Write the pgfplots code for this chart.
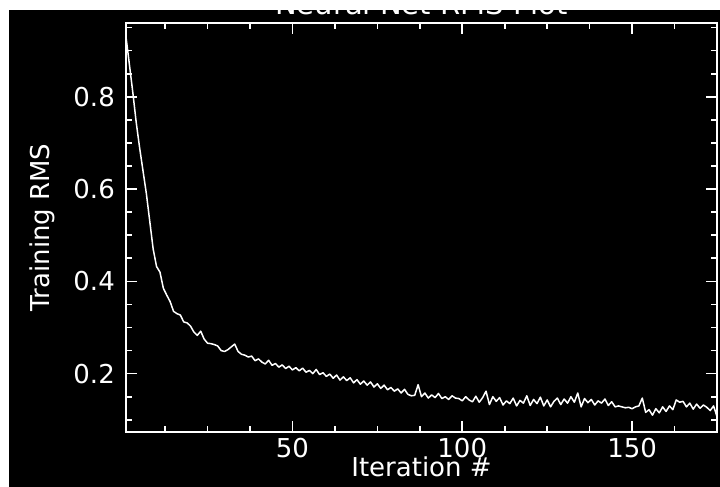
\documentclass[border=0pt]{standalone}
\usepackage{fontspec}
\setmainfont{DejaVu Sans}
\usepackage{pgfplots}
\pgfplotsset{compat=1.18}

% training RMS per iteration
\pgfplotstableread{
it rms
1 0.930
2 0.870
3 0.810
4 0.745
5 0.690
6 0.640
7 0.590
8 0.530
9 0.470
10 0.432
11 0.420
12 0.385
13 0.370
14 0.356
15 0.335
16 0.330
17 0.327
18 0.312
19 0.310
20 0.303
21 0.290
22 0.283
23 0.292
24 0.275
25 0.266
26 0.265
27 0.263
28 0.260
29 0.250
30 0.248
31 0.252
32 0.258
33 0.264
34 0.248
35 0.242
36 0.240
37 0.236
38 0.238
39 0.228
40 0.232
41 0.225
42 0.221
43 0.229
44 0.218
45 0.222
46 0.214
47 0.219
48 0.211
49 0.216
50 0.208
51 0.213
52 0.206
53 0.212
54 0.203
55 0.207
56 0.200
57 0.209
58 0.198
59 0.202
60 0.194
61 0.199
62 0.190
63 0.197
64 0.186
65 0.193
66 0.185
67 0.191
68 0.180
69 0.187
70 0.177
71 0.184
72 0.175
73 0.182
74 0.171
75 0.178
76 0.168
77 0.175
78 0.165
79 0.170
80 0.162
81 0.167
82 0.158
83 0.166
84 0.155
85 0.152
86 0.153
87 0.176
88 0.150
89 0.158
90 0.147
91 0.154
92 0.148
93 0.157
94 0.146
95 0.150
96 0.144
97 0.152
98 0.147
99 0.146
100 0.141
101 0.150
102 0.143
103 0.139
104 0.151
105 0.138
106 0.148
107 0.162
108 0.133
109 0.150
110 0.140
111 0.148
112 0.132
113 0.141
114 0.135
115 0.147
116 0.130
117 0.142
118 0.136
119 0.152
120 0.131
121 0.144
122 0.135
123 0.149
124 0.130
125 0.143
126 0.128
127 0.140
128 0.147
129 0.133
130 0.145
131 0.136
132 0.150
133 0.138
134 0.158
135 0.128
136 0.146
137 0.137
138 0.144
139 0.132
140 0.141
141 0.136
142 0.145
143 0.131
144 0.139
145 0.128
146 0.130
147 0.128
148 0.126
149 0.127
150 0.124
151 0.128
152 0.130
153 0.147
154 0.116
155 0.122
156 0.110
157 0.124
158 0.115
159 0.128
160 0.118
161 0.130
162 0.122
163 0.143
164 0.138
165 0.140
166 0.128
167 0.136
168 0.123
169 0.134
170 0.125
171 0.132
172 0.127
173 0.120
174 0.130
175 0.107
}\rmsdata

\begin{document}
\begin{tikzpicture}
% whole screenshot area, 1pt = 1px
\useasboundingbox (-126pt,-55pt) rectangle (594pt,432pt);
\clip (-126pt,-55pt) rectangle (594pt,432pt);
\fill[black] (-126pt,-55pt) rectangle (594pt,432pt);

\begin{axis}[
    scale only axis,
    width=591pt,
    height=409pt,
    xmin=1, xmax=175,
    ymin=0.0735, ymax=0.96,
    xtick={50,100,150},
    minor xtick={12.5,25,37.5,62.5,75,87.5,112.5,125,137.5,162.5},
    ytick={0.2,0.4,0.6,0.8},
    minor ytick={0.1,0.15,0.25,0.3,0.35,0.45,0.5,0.55,0.65,0.7,0.75,0.85,0.9,0.95},
    tick pos=both,
    tick align=inside,
    major tick length=11pt,
    minor tick length=6pt,
    every tick/.style={white, line width=1.6pt},
    axis line style={white, line width=2pt},
    /pgf/number format/assume math mode=true,
    xticklabel style={white, font=\fontsize{26}{30}\selectfont, inner sep=0pt, anchor=north, yshift=-6pt},
    yticklabel style={white, font=\fontsize{26}{30}\selectfont, inner sep=0pt, anchor=east, xshift=-11pt,
        /pgf/number format/fixed, /pgf/number format/fixed zerofill, /pgf/number format/precision=1},
    xlabel={Iteration \#},
    ylabel={Training RMS},
    xlabel style={white, font=\fontsize{26}{30}\selectfont, inner sep=0pt,
        at={(axis description cs:0.5,-0.110)}, anchor=base},
    ylabel style={white, font=\fontsize{26}{30}\selectfont, inner sep=0pt,
        at={(axis description cs:-0.1286,0.5)}, anchor=base},
    title={Neural Net RMS Plot},
    title style={white, font=\fontsize{29}{33}\selectfont, inner sep=0pt,
        at={(axis description cs:0.5,1.0073)}, anchor=base},
]
\addplot[white, line width=1.5pt, line join=round] table[x=it, y=rms] {\rmsdata};
\end{axis}

% white margins of the screenshot, top and left
\fill[white] (-126pt,422pt) rectangle (594pt,432pt);
\fill[white] (-126pt,-55pt) rectangle (-117pt,432pt);
\end{tikzpicture}
\end{document}
